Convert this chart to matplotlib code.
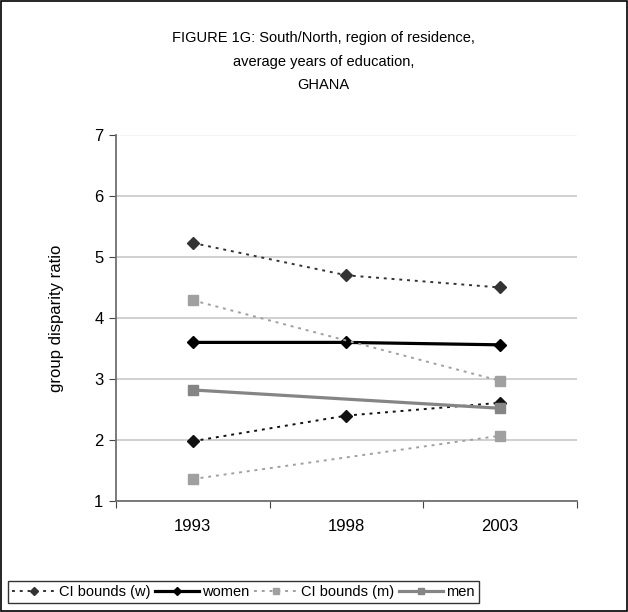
import numpy as np
import matplotlib
matplotlib.use("Agg")
import matplotlib.pyplot as plt
from matplotlib.patches import Rectangle

plt.rcParams['font.family'] = ['Liberation Sans', 'DejaVu Sans']

# data
years = ['1993', '1998', '2003']
ci_w_upper = [5.23, 4.70, 4.50]
ci_w_lower = [1.98, 2.40, 2.61]
women = [3.60, 3.60, 3.56]
ci_m_upper = [4.29, np.nan, 2.97]
ci_m_lower = [1.36, np.nan, 2.07]
men = [2.82, np.nan, 2.52]

x = np.arange(len(years)) + 0.5

fig = plt.figure(figsize=(6.28, 6.12), dpi=100)
ax = fig.add_axes([0.1847, 0.1814, 0.7341, 0.598])


def draw(vals, **kw):
    # men have no 1998 point, line just runs across it
    v = np.array(vals, dtype=float)
    m = ~np.isnan(v)
    return ax.plot(x[m], v[m], **kw)[0]


dots = (0, (1.5, 2.5))
h1 = draw(ci_w_upper, color='#333333', ls=dots, lw=1.4, marker='D', ms=6, label='CI bounds (w)')
draw(ci_w_lower, color='#111111', ls=dots, lw=1.4, marker='D', ms=6)
h2 = draw(women, color='black', lw=2.3, marker='D', ms=6, label='women')
h3 = draw(ci_m_upper, color='#a0a0a0', ls=dots, lw=1.4, marker='s', ms=7, label='CI bounds (m)')
draw(ci_m_lower, color='#a0a0a0', ls=dots, lw=1.4, marker='s', ms=7)
h4 = draw(men, color='#858585', lw=2.3, marker='s', ms=7, label='men')

ax.set_xlim(0, 3)
ax.set_ylim(1, 7)
ax.set_yticks(range(1, 8))
ax.set_xticks([0, 1, 2, 3])
ax.set_xticklabels([])
ax.set_xticks(x, minor=True)
ax.set_xticklabels(years, minor=True)
ax.tick_params(axis='x', which='minor', length=0, pad=13, labelsize=12)
ax.tick_params(axis='x', which='major', length=5, color='#444444', direction='out')
ax.tick_params(axis='y', length=5, color='#444444', labelsize=12, pad=4)
ax.yaxis.grid(True, color='#c8c8c8', lw=1.2)
ax.yaxis.get_gridlines()[-1].set_color('#f2f2f2')
ax.set_axisbelow(True)
for s in ['top', 'right']:
    ax.spines[s].set_visible(False)
for s in ['left', 'bottom']:
    ax.spines[s].set_color('#707070')
    ax.spines[s].set_linewidth(1.3)

ax.set_ylabel('group disparity ratio', fontsize=12, labelpad=22)

fig.text(0.515, 0.899, 'FIGURE 1G: South/North, region of residence,\naverage years of education,\nGHANA',
         ha='center', va='center', fontsize=10.5, linespacing=1.85)

leg = fig.legend(handles=[h1, h2, h3, h4], loc='lower left', bbox_to_anchor=(0.012, 0.014),
                 ncol=4, frameon=True, fancybox=False, fontsize=10.5, handlelength=3.0,
                 handletextpad=0.2, columnspacing=0.35, borderpad=0.3, borderaxespad=0,
                 markerscale=0.7)
leg.get_frame().set_edgecolor('black')
leg.get_frame().set_linewidth(1.0)

fig.patches.append(Rectangle((0.001, 0.001), 0.997, 0.997, transform=fig.transFigure,
                             fill=False, edgecolor='black', lw=1.2))

fig.savefig('out.png', dpi=100)
